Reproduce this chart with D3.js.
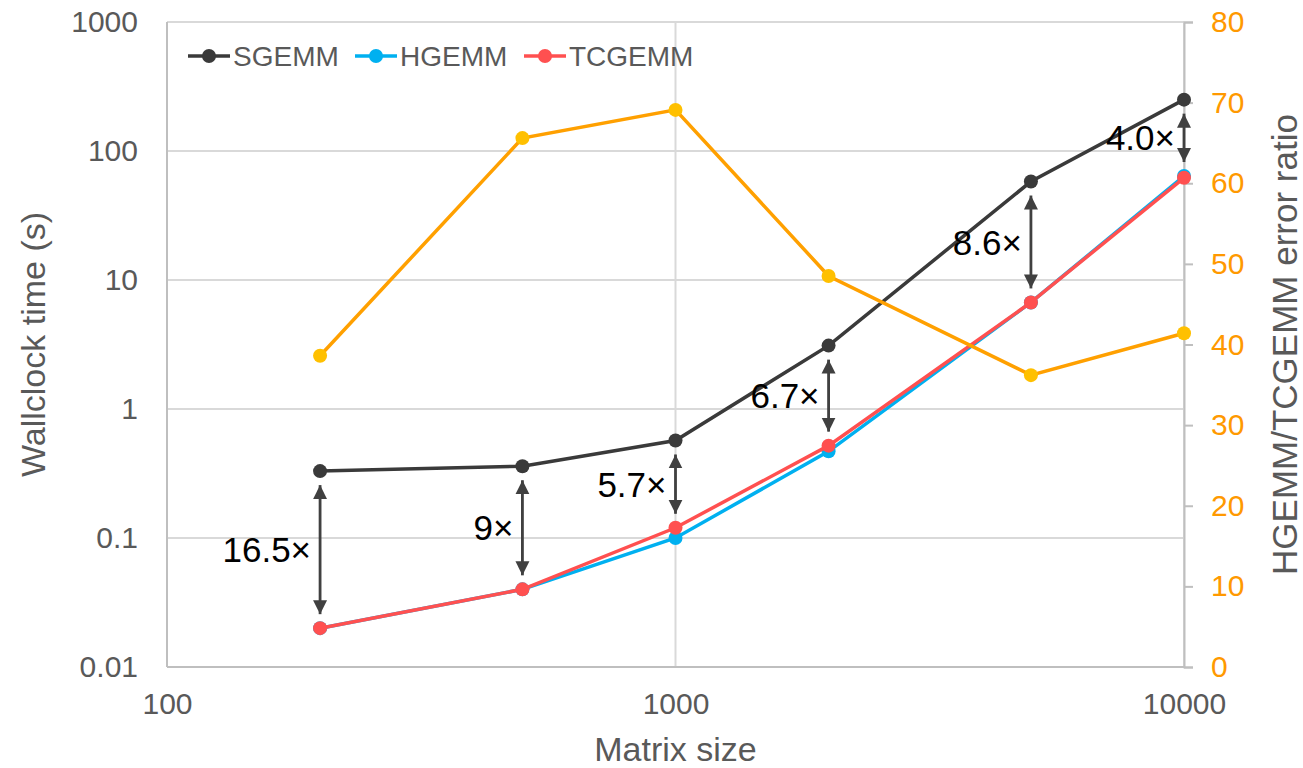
<!DOCTYPE html>
<html>
<head>
<meta charset="utf-8">
<script src="https://cdn.jsdelivr.net/npm/d3@7"></script>
<style>
  body { margin: 0; background: #fff; }
  text { font-family: "Liberation Sans", Arial, sans-serif; }
</style>
</head>
<body>
<div id="chart"></div>
<script>
// data
const sizes = [200, 500, 1000, 2000, 5000, 10000];
const sgemm = [0.33, 0.36, 0.57, 3.1, 58, 250];
const hgemm = [0.02, 0.04, 0.10, 0.47, 6.7, 64];
const tcgemm = [0.02, 0.04, 0.12, 0.52, 6.7, 62];
const errorRatio = [38.6, 65.6, 69.1, 48.5, 36.2, 41.4];
const speedupLabels = ["16.5×", "9×", "5.7×", "6.7×", "8.6×", "4.0×"];
const xTicks = [100, 1000, 10000];
const yTicks = [0.01, 0.1, 1, 10, 100, 1000];
const y2Ticks = [0, 10, 20, 30, 40, 50, 60, 70, 80];

const WIDTH = 1303, HEIGHT = 768;
const PLOT = { left: 167, right: 1184, top: 22, bottom: 667 };

const COLORS = {
  sgemm: "#3a3a3a",
  hgemm: "#00b0f0",
  tcgemm: "#ff5050",
  ratioLine: "#ffa000",
  ratioDot: "#ffc000",
  ratioText: "#ff9900",
  text: "#595959",
  grid: "#d9d9d9",
  axis: "#bfbfbf",
  arrow: "#404040"
};

const svg = d3.select("#chart").append("svg")
  .attr("width", WIDTH)
  .attr("height", HEIGHT);

const x = d3.scaleLog().domain([100, 10000]).range([PLOT.left, PLOT.right]);
const y = d3.scaleLog().domain([0.01, 1000]).range([PLOT.bottom, PLOT.top]);
const y2 = d3.scaleLinear().domain([0, 80]).range([PLOT.bottom, PLOT.top]);

// GRID LINES
svg.append("g")
  .selectAll("line")
  .data(yTicks)
  .join("line")
  .attr("x1", PLOT.left).attr("x2", PLOT.right)
  .attr("y1", d => y(d)).attr("y2", d => y(d))
  .style("stroke", COLORS.grid)
  .style("stroke-width", 2);

svg.append("g")
  .selectAll("line")
  .data(xTicks)
  .join("line")
  .attr("x1", d => x(d)).attr("x2", d => x(d))
  .attr("y1", PLOT.top).attr("y2", PLOT.bottom)
  .style("stroke", COLORS.grid)
  .style("stroke-width", 2);

// LEFT + BOTTOM BORDER
svg.append("line")
  .attr("x1", PLOT.left).attr("x2", PLOT.left)
  .attr("y1", PLOT.top).attr("y2", PLOT.bottom)
  .style("stroke", COLORS.axis).style("stroke-width", 2);
svg.append("line")
  .attr("x1", PLOT.left).attr("x2", PLOT.right)
  .attr("y1", PLOT.bottom).attr("y2", PLOT.bottom)
  .style("stroke", COLORS.axis).style("stroke-width", 2);

// X AXIS
const xAxis = svg.append("g")
  .attr("transform", `translate(0,${PLOT.bottom})`)
  .call(d3.axisBottom(x).tickValues(xTicks).tickFormat(d3.format("d")).tickSize(0).tickPadding(25));
xAxis.select(".domain").remove();
xAxis.selectAll("text")
  .style("font-size", "30px")
  .style("fill", COLORS.text)
  .attr("dy", "0.71em")
  .attr("y", 26);

// LEFT Y AXIS
const yAxis = svg.append("g")
  .attr("transform", `translate(${PLOT.left},0)`)
  .call(d3.axisLeft(y).tickValues(yTicks).tickFormat(d => d >= 1 ? d3.format("d")(d) : String(d)).tickSize(0).tickPadding(29));
yAxis.select(".domain").remove();
yAxis.selectAll("text")
  .style("font-size", "30px")
  .style("fill", COLORS.text);

// RIGHT Y AXIS
const y2Axis = svg.append("g")
  .attr("transform", `translate(${PLOT.right},0)`)
  .call(d3.axisRight(y2).tickValues(y2Ticks).tickSize(9).tickPadding(18));
y2Axis.select(".domain")
  .style("stroke", COLORS.axis).style("stroke-width", 2);
y2Axis.selectAll("line")
  .style("stroke", COLORS.axis).style("stroke-width", 2);
y2Axis.selectAll("text")
  .style("font-size", "30px")
  .style("fill", COLORS.ratioText);

// AXIS TITLES
svg.append("text")
  .attr("x", (PLOT.left + PLOT.right) / 2)
  .attr("y", 761)
  .attr("text-anchor", "middle")
  .text("Matrix size")
  .style("font-size", "34px")
  .style("fill", COLORS.text);

svg.append("text")
  .attr("transform", `translate(45,${(PLOT.top + PLOT.bottom) / 2}) rotate(-90)`)
  .attr("text-anchor", "middle")
  .text("Wallclock time (s)")
  .style("font-size", "34px")
  .style("fill", COLORS.text);

svg.append("text")
  .attr("transform", `translate(1297,${(PLOT.top + PLOT.bottom) / 2}) rotate(-90)`)
  .attr("text-anchor", "middle")
  .text("HGEMM/TCGEMM error ratio")
  .style("font-size", "35px")
  .style("fill", COLORS.text);

// SERIES
const timeLine = d3.line().x((d, i) => x(sizes[i])).y(d => y(d));
const ratioLine = d3.line().x((d, i) => x(sizes[i])).y(d => y2(d));

const series = [
  { name: "SGEMM", values: sgemm, color: COLORS.sgemm },
  { name: "HGEMM", values: hgemm, color: COLORS.hgemm },
  { name: "TCGEMM", values: tcgemm, color: COLORS.tcgemm }
];

series.forEach(s => {
  svg.append("path")
    .attr("d", timeLine(s.values))
    .style("fill", "none")
    .style("stroke", s.color)
    .style("stroke-width", 3.5);
  svg.append("g")
    .selectAll("circle")
    .data(s.values)
    .join("circle")
    .attr("cx", (d, i) => x(sizes[i]))
    .attr("cy", d => y(d))
    .attr("r", 7)
    .style("fill", s.color);
});

svg.append("path")
  .attr("d", ratioLine(errorRatio))
  .style("fill", "none")
  .style("stroke", COLORS.ratioLine)
  .style("stroke-width", 3.5);
svg.append("g")
  .selectAll("circle")
  .data(errorRatio)
  .join("circle")
  .attr("cx", (d, i) => x(sizes[i]))
  .attr("cy", d => y2(d))
  .attr("r", 7)
  .style("fill", COLORS.ratioDot);

// SPEEDUP ARROWS
const defs = svg.append("defs");
["start", "end"].forEach(k => {
  defs.append("marker")
    .attr("id", "head-" + k)
    .attr("viewBox", "0 0 10 10")
    .attr("refX", 10).attr("refY", 5)
    .attr("markerWidth", 5).attr("markerHeight", 5.5)
    .attr("markerUnits", "strokeWidth")
    .attr("orient", k === "start" ? "auto-start-reverse" : "auto")
    .append("path")
    .attr("d", "M0,0 L10,5 L0,10 Z")
    .style("fill", COLORS.arrow);
});

const GAP = 14;
sizes.forEach((s, i) => {
  const top = y(sgemm[i]) + GAP;
  const bottom = y(Math.max(hgemm[i], tcgemm[i])) - GAP;
  svg.append("line")
    .attr("x1", x(s)).attr("x2", x(s))
    .attr("y1", top).attr("y2", bottom)
    .attr("marker-start", "url(#head-start)")
    .attr("marker-end", "url(#head-end)")
    .style("stroke", COLORS.arrow)
    .style("stroke-width", 2.8);
  svg.append("text")
    .attr("x", x(s) - 9)
    .attr("y", (top + bottom) / 2)
    .attr("dy", "0.36em")
    .attr("text-anchor", "end")
    .text(speedupLabels[i])
    .style("font-size", "35px")
    .style("fill", "#000");
});

// LEGEND
const legendX = [188, 355, 524];
const legend = svg.append("g")
  .selectAll("g")
  .data(series)
  .join("g")
  .attr("transform", (d, i) => `translate(${legendX[i]},56)`);
legend.append("line")
  .attr("x1", 0).attr("x2", 42)
  .style("stroke", d => d.color)
  .style("stroke-width", 3.5);
legend.append("circle")
  .attr("cx", 21).attr("r", 7)
  .style("fill", d => d.color);
legend.append("text")
  .attr("x", 45)
  .attr("dy", "0.36em")
  .text(d => d.name)
  .style("font-size", "28px")
  .style("fill", COLORS.text);
</script>
</body>
</html>
